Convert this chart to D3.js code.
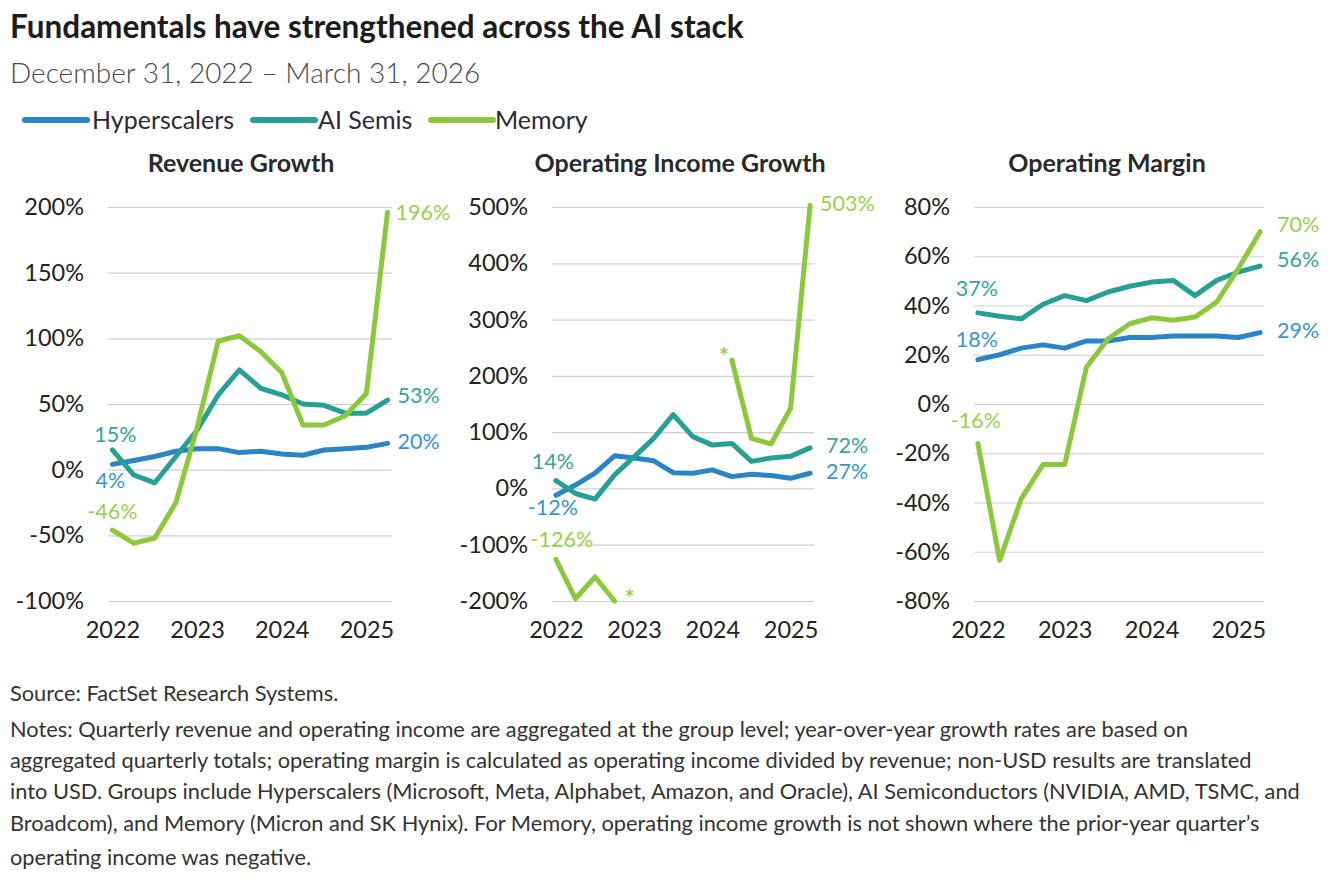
<!DOCTYPE html>
<html>
<head>
<meta charset="utf-8">
<script src="https://cdn.jsdelivr.net/npm/d3@7"></script>
<style>
  html, body { margin: 0; padding: 0; background: #fff; }
  svg { display: block; font-family: Lato, "Noto Sans", sans-serif; }
</style>
</head>
<body>
<svg id="chart" width="1338" height="886"></svg>
<script>
// ---------------- DATA ----------------
const quarters = ["Dec 2022","Mar 2023","Jun 2023","Sep 2023","Dec 2023","Mar 2024","Jun 2024",
                  "Sep 2024","Dec 2024","Mar 2025","Jun 2025","Sep 2025","Dec 2025","Mar 2026"];
const yearTickIndex = [0, 4, 8, 12];
const yearTickLabels = ["2022", "2023", "2024", "2025"];
const seriesNames = ["Hyperscalers", "AI Semis", "Memory"];

// Revenue growth (%)
const revHyperscalers = [4, 7, 10, 14, 16, 16, 13, 14, 12, 11, 15, 16, 17, 20];
const revAISemis      = [15, -4, -10, 10, 30, 57, 76, 62, 57, 50, 49, 43, 43, 53];
const revMemory       = [-46, -56, -52, -25, 32, 98, 102, 90, 74, 34, 34, 41, 58, 196];

// Operating income growth (%)  (null = not shown, prior-year operating income negative)
const oigHyperscalers = [-12, 6, 27, 58, 54, 49, 28, 27, 33, 21, 25, 23, 18, 27];
const oigAISemis      = [14, -9, -19, 24, 56, 89, 131, 92, 77, 80, 48, 54, 57, 72];
const oigMemory       = [-126, -196, -157, -200, null, null, null, null, null, 228, 89, 79, 142, 503];

// Operating margin (%)
const omHyperscalers = [18, 20, 22.7, 24, 22.7, 25.6, 25.6, 27, 27, 27.6, 27.6, 27.6, 27, 29];
const omAISemis      = [37, 35.6, 34.6, 40.5, 44, 42, 45.5, 47.8, 49.5, 50.2, 44, 50.2, 53.6, 56];
const omMemory       = [-16, -63.5, -38.4, -24.6, -24.6, 15, 26.5, 32.6, 35, 34, 35.3, 41.4, 55, 70];

const revTicks = [-100, -50, 0, 50, 100, 150, 200];
const oigTicks = [-200, -100, 0, 100, 200, 300, 400, 500];
const omTicks  = [-80, -60, -40, -20, 0, 20, 40, 60, 80];

const panelTitles = ["Revenue Growth", "Operating Income Growth", "Operating Margin"];

// ---------------- STYLE ----------------
const lineColors  = ["#2a84c6", "#27a093", "#8cc83c"];
const labelColors = ["#3b93d1", "#34a597", "#9bcf4d"];

const svg = d3.select("#chart");

// Title / subtitle
svg.append("text").attr("x", 10).attr("y", 38)
  .attr("font-size", 31.5).attr("font-weight", 700).attr("fill", "#1c1c1c")
  .text("Fundamentals have strengthened across the AI stack");
svg.append("text").attr("x", 10).attr("y", 83)
  .attr("font-size", 28).attr("font-weight", 300).attr("fill", "#4a4a4a")
  .text("December 31, 2022 \u2013 March 31, 2026");

// Legend
const legendPos = [{lx: 25, tx: 92}, {lx: 253, tx: 318}, {lx: 431, tx: 495}];
const legend = svg.append("g");
seriesNames.forEach((name, i) => {
  legend.append("line").attr("x1", legendPos[i].lx).attr("x2", legendPos[i].lx + 62)
    .attr("y1", 120).attr("y2", 120)
    .attr("stroke", lineColors[i]).attr("stroke-width", 6).attr("stroke-linecap", "round");
  legend.append("text").attr("x", legendPos[i].tx).attr("y", 129)
    .attr("font-size", 25).attr("fill", "#2b2b35").text(name);
});

// Panels
const panels = [
  { title: panelTitles[0], cx: 241, x0: 108, x1: 392, pad: 0.21, domain: [-100, 200], ticks: revTicks,
    series: [revHyperscalers, revAISemis, revMemory],
    startLabels: [{dx: -2, dy: 18}, {dx: 3, dy: -13}, {dx: 0, dy: -17}],
    endLabels: [{dx: 10, dy: 0}, {dx: 10, dy: -2}, {dx: 8, dy: 2}],
    asterisks: [] },
  { title: panelTitles[1], cx: 680, x0: 552, x1: 814, pad: 0.2, domain: [-200, 500], ticks: oigTicks,
    series: [oigHyperscalers, oigAISemis, oigMemory],
    startLabels: [{dx: -3, dy: 14}, {dx: -3, dy: -17}, {dx: 6, dy: -18}],
    endLabels: [{dx: 16, dy: 0}, {dx: 16, dy: 0}, {dx: 10, dy: 0}],
    asterisks: [{i: 3, dx: 15, dy: -1}, {i: 9, dx: -8, dy: -2}] },
  { title: panelTitles[2], cx: 1107, x0: 974, x1: 1264, pad: 0.18, domain: [-80, 80], ticks: omTicks,
    series: [omHyperscalers, omAISemis, omMemory],
    startLabels: [{dx: -1, dy: -18}, {dx: -1, dy: -22}, {dx: -2, dy: -21}],
    endLabels: [{dx: 17, dy: 0}, {dx: 17, dy: -5}, {dx: 17, dy: -5}],
    asterisks: [] }
];

const yTop = 207, yBottom = 601;

panels.forEach((p, pi) => {
  const g = svg.append("g");
  const x = d3.scalePoint().domain(d3.range(quarters.length)).range([p.x0, p.x1]).padding(p.pad);
  const y = d3.scaleLinear().domain(p.domain).range([yBottom, yTop]);

  g.append("text").attr("x", p.cx).attr("y", 172).attr("text-anchor", "middle")
    .attr("font-size", 25).attr("font-weight", 700).attr("fill", "#2a2a2a").text(p.title);

  // y axis with gridlines
  const yAxis = d3.axisLeft(y).tickValues(p.ticks).tickFormat(d => d + "%")
    .tickSize(-(p.x1 - p.x0)).tickPadding(24);
  const ya = g.append("g").attr("transform", `translate(${p.x0},0)`).call(yAxis);
  ya.select(".domain").remove();
  ya.selectAll(".tick line").attr("stroke", "#cfcfcf").attr("stroke-width", 1.2);
  ya.selectAll(".tick text").attr("font-size", 23.5).attr("fill", "#222")
    .attr("font-family", "Lato, sans-serif");

  // x axis
  const xAxis = d3.axisBottom(x).tickValues(yearTickIndex)
    .tickFormat((d, k) => yearTickLabels[k]).tickSize(0).tickPadding(10);
  const xa = g.append("g").attr("transform", `translate(0,${yBottom + 10})`).call(xAxis);
  xa.select(".domain").remove();
  xa.selectAll(".tick text").attr("font-size", 23.5).attr("fill", "#222")
    .attr("font-family", "Lato, sans-serif");

  const line = d3.line().defined(d => d != null)
    .x((d, i) => x(i)).y(d => y(d));

  p.series.forEach((vals, si) => {
    g.append("path").datum(vals).attr("d", line)
      .attr("fill", "none").attr("stroke", lineColors[si]).attr("stroke-width", 5)
      .attr("stroke-linejoin", "round").attr("stroke-linecap", "round");
  });

  // start labels
  p.series.forEach((vals, si) => {
    const v = vals[0];
    const o = p.startLabels[si];
    g.append("text").attr("x", x(0) + o.dx).attr("y", y(v) + o.dy)
      .attr("text-anchor", "middle").attr("dominant-baseline", "middle")
      .attr("font-size", 21.5).attr("fill", labelColors[si])
      .text(Math.round(v) + "%");
  });
  // end labels
  p.series.forEach((vals, si) => {
    const last = vals.length - 1;
    const v = vals[last];
    const o = p.endLabels[si];
    g.append("text").attr("x", x(last) + o.dx).attr("y", y(v) + o.dy)
      .attr("dominant-baseline", "middle")
      .attr("font-size", 21.5).attr("fill", labelColors[si])
      .text(Math.round(v) + "%");
  });
  // asterisks
  p.asterisks.forEach(a => {
    g.append("text").attr("x", x(a.i) + a.dx).attr("y", y(p.series[2][a.i]) + a.dy)
      .attr("text-anchor", "middle").attr("dominant-baseline", "middle")
      .attr("font-size", 23).attr("font-weight", 700).attr("fill", labelColors[2]).text("*");
  });
});

// Footer
const footLines = [
  "Source: FactSet Research Systems.",
  "Notes: Quarterly revenue and operating income are aggregated at the group level; year-over-year growth rates are based on",
  "aggregated quarterly totals; operating margin is calculated as operating income divided by revenue; non-USD results are translated",
  "into USD. Groups include Hyperscalers (Microsoft, Meta, Alphabet, Amazon, and Oracle), AI Semiconductors (NVIDIA, AMD, TSMC, and",
  "Broadcom), and Memory (Micron and SK Hynix). For Memory, operating income growth is not shown where the prior-year quarter\u2019s",
  "operating income was negative."
];
const footY = [701, 737, 768, 799, 831, 865];
footLines.forEach((t, i) => {
  svg.append("text").attr("x", 10).attr("y", footY[i])
    .attr("font-size", 21.8).attr("fill", "#333").text(t);
});
</script>
</body>
</html>
